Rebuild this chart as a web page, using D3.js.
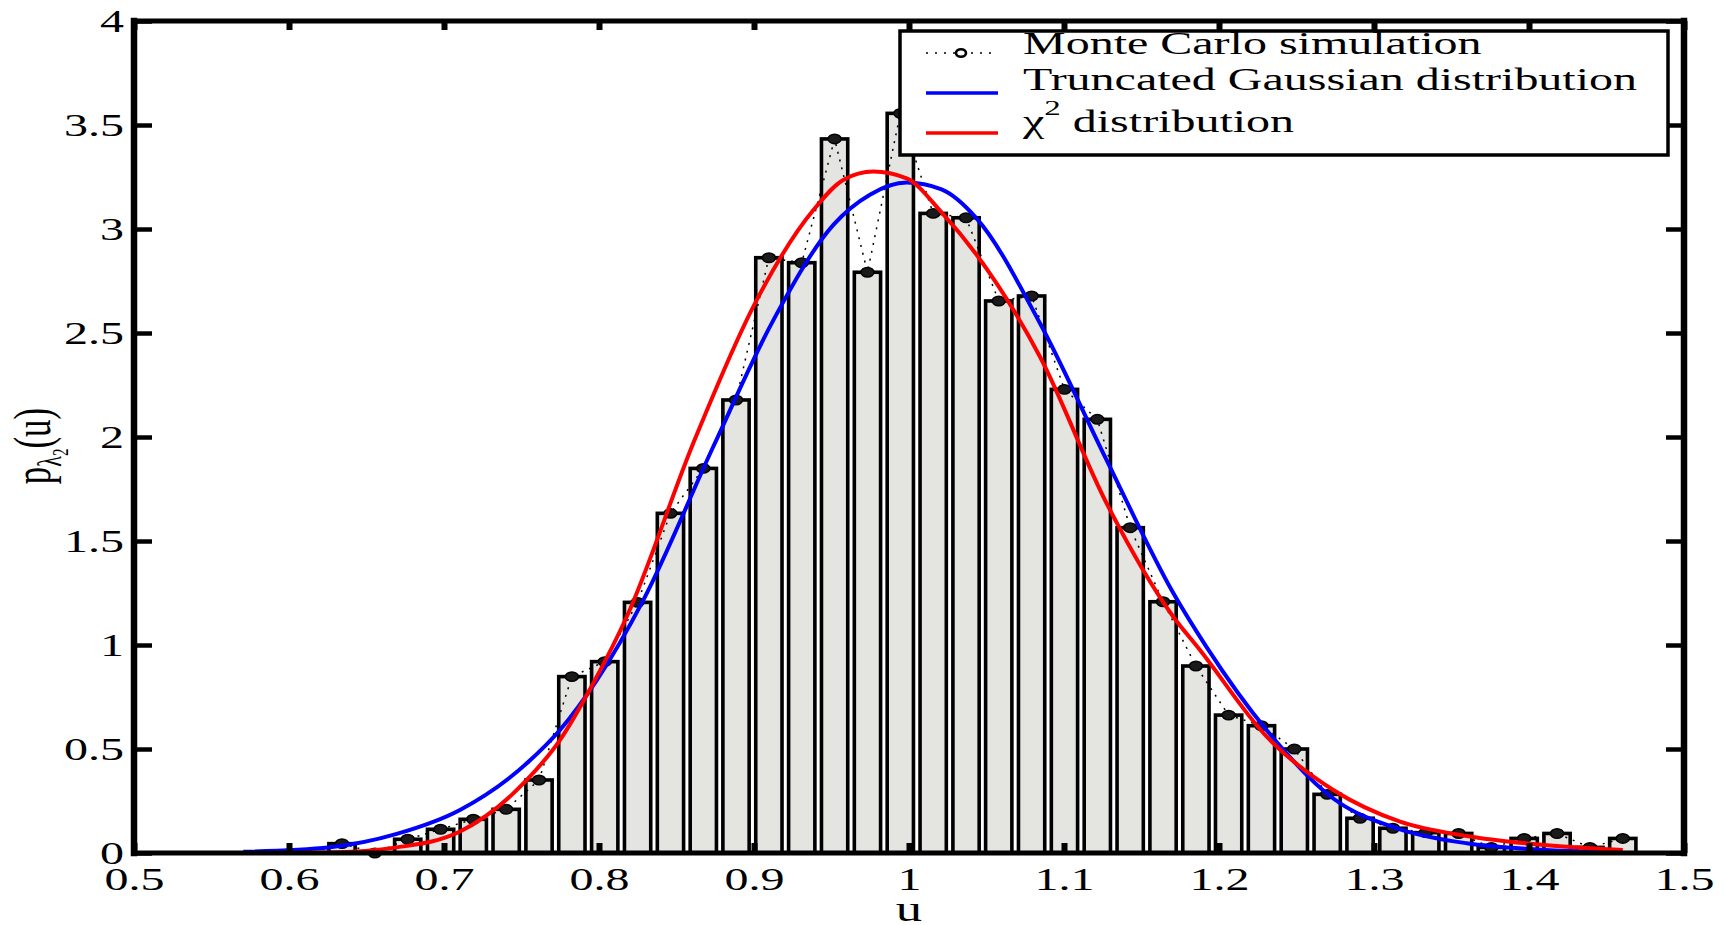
<!DOCTYPE html>
<html>
<head>
<meta charset="utf-8">
<script src="https://cdn.jsdelivr.net/npm/d3@7"></script>
<style>
html, body { margin: 0; padding: 0; background: #fff; }
svg { display: block; }
text { font-family: "Liberation Serif", "Times New Roman", serif; fill: #000; }
</style>
</head>
<body>
<svg id="chart" width="1726" height="925"></svg>
<script>
// ---------------- data ----------------
const binWidth = 0.021187;
const binCenters = [
  0.6342, 0.6554, 0.6766, 0.6978, 0.7189, 0.7401, 0.7613, 0.7825, 0.8037, 0.8249,
  0.8461, 0.8673, 0.8884, 0.9096, 0.9308, 0.9520, 0.9732, 0.9944, 1.0156, 1.0368,
  1.0579, 1.0791, 1.1003, 1.1215, 1.1427, 1.1639, 1.1851, 1.2062, 1.2274, 1.2486,
  1.2698, 1.2910, 1.3122, 1.3334, 1.3546, 1.3757, 1.3969, 1.4181, 1.4393, 1.4605
];
const mcDensity = [
  0.045, 0.000, 0.066, 0.114, 0.162, 0.210, 0.351, 0.848, 0.920, 1.205,
  1.633, 1.849, 2.178, 2.862, 2.838, 3.433, 2.792, 3.556, 3.075, 3.054,
  2.654, 2.678, 2.229, 2.085, 1.564, 1.208, 0.899, 0.663, 0.612, 0.500,
  0.282, 0.167, 0.119, 0.098, 0.094, 0.027, 0.070, 0.094, 0.027, 0.070
];
const gaussCurve = [
  [0.5705, 0.006], [0.6265, 0.028], [0.6695, 0.092], [0.7103, 0.207], [0.7534, 0.431],
  [0.7748, 0.591], [0.7985, 0.830], [0.8286, 1.216], [0.8737, 1.953], [0.9125, 2.562],
  [0.9512, 3.020], [0.9748, 3.165], [0.9985, 3.223], [1.0210, 3.190], [1.0437, 3.050],
  [1.0845, 2.547], [1.1275, 1.889], [1.1705, 1.250], [1.1920, 0.990], [1.2308, 0.590],
  [1.2737, 0.262], [1.3168, 0.114], [1.3598, 0.047], [1.4028, 0.018], [1.4605, 0.002]
];
const chi2Curve = [
  [0.5705, 0.000], [0.6265, 0.003], [0.6695, 0.027], [0.7103, 0.103], [0.7534, 0.351],
  [0.7748, 0.543], [0.7963, 0.816], [0.8179, 1.136], [0.8608, 1.970], [0.8995, 2.626],
  [0.9383, 3.091], [0.9576, 3.236], [0.9770, 3.276], [0.9985, 3.243], [1.0210, 3.080],
  [1.0437, 2.875], [1.0845, 2.386], [1.1275, 1.681], [1.1705, 1.136], [1.1877, 0.976],
  [1.2308, 0.559], [1.2737, 0.303], [1.3168, 0.151], [1.3598, 0.082], [1.4028, 0.043],
  [1.4605, 0.014]
];
const xTickValues = [0.5, 0.6, 0.7, 0.8, 0.9, 1.0, 1.1, 1.2, 1.3, 1.4, 1.5];
const xTickLabels = ["0.5", "0.6", "0.7", "0.8", "0.9", "1", "1.1", "1.2", "1.3", "1.4", "1.5"];
const yTickValues = [0, 0.5, 1, 1.5, 2, 2.5, 3, 3.5, 4];
const yTickLabels = ["0", "0.5", "1", "1.5", "2", "2.5", "3", "3.5", "4"];
const legendLabels = [
  [{ t: "Monte Carlo simulation" }],
  [{ t: "Truncated Gaussian distribution" }],
  [{ t: "\u03C7" }, { t: "2", sup: true }, { t: " distribution" }]
];
const xLabel = "u";
const yLabelParts = [{ t: "p" }, { t: "\u03BB", sub: 1 }, { t: "2", sub: 2 }, { t: "(u)" }];

// ---------------- layout ----------------
const SX = 1.5;          // horizontal text stretch of the original figure
const FS = 32;           // font size
const plot = { left: 134, right: 1684, top: 21, bottom: 853 };
const x = d3.scaleLinear().domain([0.5, 1.5]).range([plot.left, plot.right]);
const y = d3.scaleLinear().domain([0, 4]).range([plot.bottom, plot.top]);
const svg = d3.select("#chart");

// bars
svg.append("g").selectAll("rect").data(binCenters).join("rect")
  .attr("x", c => x(c - 0.4 * binWidth))
  .attr("width", c => x(c + 0.4 * binWidth) - x(c - 0.4 * binWidth))
  .attr("y", (c, i) => y(mcDensity[i]))
  .attr("height", (c, i) => y(0) - y(mcDensity[i]))
  .attr("fill", "#e4e5e0")
  .attr("stroke", "#000")
  .attr("stroke-width", 3.6);

// Monte Carlo dotted line + markers
const mcPts = binCenters.map((c, i) => [c, mcDensity[i]]);
svg.append("path")
  .attr("d", d3.line().x(d => x(d[0])).y(d => y(d[1]))(mcPts))
  .attr("fill", "none").attr("stroke", "#000").attr("stroke-width", 1.5)
  .attr("stroke-dasharray", "2,6");
svg.append("g").selectAll("ellipse").data(mcPts).join("ellipse")
  .attr("cx", d => x(d[0])).attr("cy", d => y(d[1]))
  .attr("rx", 6.5).attr("ry", 4.7)
  .attr("fill", "#1a1a1a").attr("stroke", "#000").attr("stroke-width", 1.5);

// curves
const curveLine = d3.line().x(d => x(d[0])).y(d => y(d[1])).curve(d3.curveMonotoneX);
svg.append("path").attr("d", curveLine(gaussCurve))
  .attr("fill", "none").attr("stroke", "#0000ff").attr("stroke-width", 4);
svg.append("path").attr("d", curveLine(chi2Curve))
  .attr("fill", "none").attr("stroke", "#ff0000").attr("stroke-width", 4);

// axes
function styleAxis(g) {
  g.attr("font-family", null).attr("font-size", null);
  g.select(".domain").remove();
  g.selectAll(".tick line").attr("stroke", "#000");
}
const gx = svg.append("g").attr("transform", `translate(0,${plot.bottom})`)
  .call(d3.axisBottom(x).tickValues(xTickValues).tickFormat((d, i) => xTickLabels[i])
    .tickSizeInner(-10).tickSizeOuter(0).tickPadding(14));
styleAxis(gx);
gx.selectAll(".tick line").attr("stroke-width", 6);
gx.selectAll(".tick text").attr("font-size", FS).attr("transform", `scale(${SX},1)`);

const gxt = svg.append("g").attr("transform", `translate(0,${plot.top})`)
  .call(d3.axisTop(x).tickValues(xTickValues).tickFormat("").tickSizeInner(-9).tickSizeOuter(0));
styleAxis(gxt);
gxt.selectAll(".tick line").attr("stroke-width", 6);

const gy = svg.append("g").attr("transform", `translate(${plot.left},0)`)
  .call(d3.axisLeft(y).tickValues(yTickValues).tickFormat((d, i) => yTickLabels[i])
    .tickSizeInner(-18).tickSizeOuter(0).tickPadding(7));
styleAxis(gy);
gy.selectAll(".tick line").attr("stroke-width", 4.5);
gy.selectAll(".tick text").attr("font-size", FS).attr("dy", "0.34em")
  .attr("x", -10 / SX).attr("transform", `scale(${SX},1)`);

const gyr = svg.append("g").attr("transform", `translate(${plot.right},0)`)
  .call(d3.axisRight(y).tickValues(yTickValues).tickFormat("").tickSizeInner(-18).tickSizeOuter(0));
styleAxis(gyr);
gyr.selectAll(".tick line").attr("stroke-width", 4.5);

// box
const box = svg.append("g").attr("stroke", "#000").attr("stroke-linecap", "square");
box.append("line").attr("x1", plot.left).attr("x2", plot.right).attr("y1", plot.top).attr("y2", plot.top).attr("stroke-width", 5);
box.append("line").attr("x1", plot.left).attr("x2", plot.right).attr("y1", plot.bottom).attr("y2", plot.bottom).attr("stroke-width", 5);
box.append("line").attr("x1", plot.left).attr("x2", plot.left).attr("y1", plot.top).attr("y2", plot.bottom).attr("stroke-width", 6.5);
box.append("line").attr("x1", plot.right).attr("x2", plot.right).attr("y1", plot.top).attr("y2", plot.bottom).attr("stroke-width", 6.5);

// axis labels
svg.append("text")
  .attr("transform", `translate(${(plot.left + plot.right) / 2},921) scale(${SX},1)`)
  .attr("text-anchor", "middle").attr("font-size", 35).text(xLabel);

const yl = svg.append("text")
  .attr("transform", `translate(50,446) scale(${SX},1) rotate(-90)`)
  .attr("text-anchor", "middle").attr("font-size", 35);
yLabelParts.forEach(p => {
  const ts = yl.append("tspan").text(p.t);
  if (p.sub === 1) ts.attr("font-size", 22).attr("dy", 7);
  else if (p.sub === 2) ts.attr("font-size", 15).attr("dy", 5);
  else if (p.t === "(u)") ts.attr("dy", -12);
});

// legend
const lg = svg.append("g");
lg.append("rect").attr("x", 900).attr("y", 31).attr("width", 768).attr("height", 124)
  .attr("fill", "#fff").attr("stroke", "#000").attr("stroke-width", 3.5);
const rowLineY = [53, 93, 133];
const rowTextY = [54, 90, 132];
lg.append("line").attr("x1", 926).attr("x2", 998).attr("y1", rowLineY[0]).attr("y2", rowLineY[0])
  .attr("stroke", "#000").attr("stroke-width", 1.6).attr("stroke-dasharray", "2,7");
lg.append("ellipse").attr("cx", 961).attr("cy", rowLineY[0]).attr("rx", 5).attr("ry", 3.8)
  .attr("fill", "#fff").attr("stroke", "#000").attr("stroke-width", 2.6);
lg.append("line").attr("x1", 926).attr("x2", 998).attr("y1", rowLineY[1]).attr("y2", rowLineY[1])
  .attr("stroke", "#0000ff").attr("stroke-width", 3.5);
lg.append("line").attr("x1", 926).attr("x2", 998).attr("y1", rowLineY[2]).attr("y2", rowLineY[2])
  .attr("stroke", "#ff0000").attr("stroke-width", 3.5);
legendLabels.forEach((parts, i) => {
  const t = lg.append("text")
    .attr("transform", `translate(1023,${rowTextY[i]}) scale(${SX},1)`)
    .attr("font-size", FS);
  parts.forEach(p => {
    const ts = t.append("tspan").text(p.t);
    if (p.sup) ts.attr("font-size", 22).attr("dy", -17);
    else if (parts.length > 1 && p.t.startsWith(" ")) ts.attr("dy", 17);
  });
});
</script>
</body>
</html>
